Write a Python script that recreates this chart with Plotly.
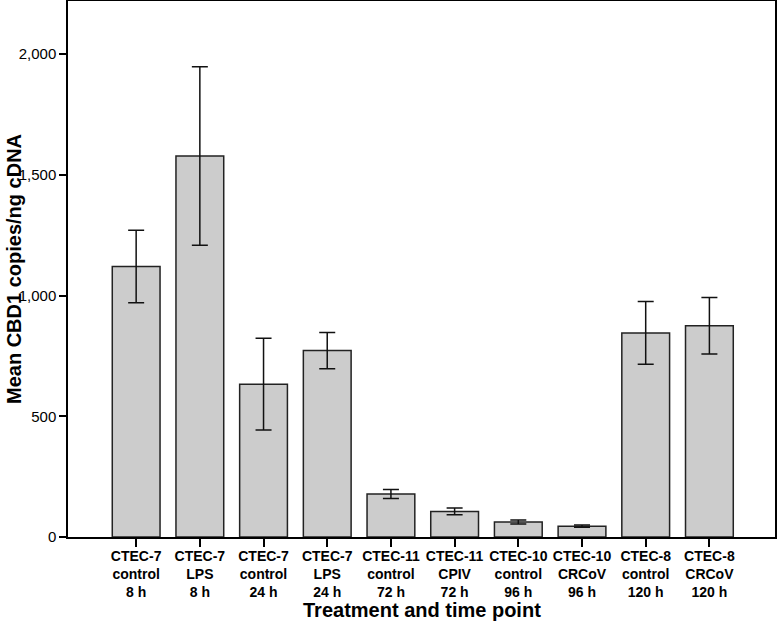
import plotly.graph_objects as go

categories = [
    "CTEC-7<br>control<br>8 h", "CTEC-7<br>LPS<br>8 h",
    "CTEC-7<br>control<br>24 h", "CTEC-7<br>LPS<br>24 h",
    "CTEC-11<br>control<br>72 h", "CTEC-11<br>CPIV<br>72 h",
    "CTEC-10<br>control<br>96 h", "CTEC-10<br>CRCoV<br>96 h",
    "CTEC-8<br>control<br>120 h", "CTEC-8<br>CRCoV<br>120 h",
]
means = [1120, 1578, 633, 772, 178, 106, 62, 45, 845, 875]
errors = [150, 370, 190, 75, 19, 14, 8, 5, 130, 117]
y_ticks = [0, 500, 1000, 1500, 2000]

W, H = 777, 625
ML, MR, MT, MB = 68, 2, 1, 88
PW, PH = W - ML - MR, H - MT - MB

fig = go.Figure()
fig.add_trace(go.Bar(
    x=list(range(len(categories))), y=means,
    width=0.75,
    marker=dict(color="#cccccc", line=dict(color="#222222", width=1.5)),
    error_y=dict(type="data", array=errors, visible=True,
                 color="#111111", thickness=1.5, width=8),
))

fig.update_layout(
    width=W, height=H,
    margin=dict(l=ML, r=MR, t=MT, b=MB, autoexpand=False),
    paper_bgcolor="white", plot_bgcolor="white",
    showlegend=False,
    font=dict(family="Liberation Sans, Arial, sans-serif", color="black"),
    xaxis=dict(
        tickmode="array", tickvals=list(range(len(categories))),
        ticktext=["<b>%s</b>" % c for c in categories],
        range=[-1.07, 10.03], automargin=False,
        showline=True, linecolor="black", linewidth=1.5, mirror=True,
        ticks="outside", ticklen=8, tickwidth=1.5, tickcolor="black",
        ticklabelstandoff=-3,
        tickfont=dict(size=14, color="black"),
        showgrid=False, zeroline=False,
    ),
    yaxis=dict(
        range=[0, 2220], automargin=False,
        tickvals=y_ticks, tickformat=",d",
        showline=True, linecolor="black", linewidth=1.5, mirror=True,
        ticks="outside", ticklen=7, tickwidth=1.5, tickcolor="black",
        tickfont=dict(size=15, color="black"),
        showgrid=False, zeroline=False,
    ),
    annotations=[
        dict(text="<b>Treatment and time point</b>", xref="paper", yref="paper",
             x=0.5, y=-(610 - (MT + PH)) / PH, xanchor="center", yanchor="middle",
             showarrow=False, font=dict(size=20, color="black")),
        dict(text="<b>Mean CBD1 copies/ng cDNA</b>", xref="paper", yref="paper",
             x=-(ML - 14) / PW, y=0.5, xanchor="center", yanchor="middle",
             textangle=-90, showarrow=False, font=dict(size=20, color="black")),
    ],
)

fig.write_html(
    "out.html",
    config={"displayModeBar": False},
    post_script="document.body.style.margin='0';document.body.style.overflow='hidden';",
)
